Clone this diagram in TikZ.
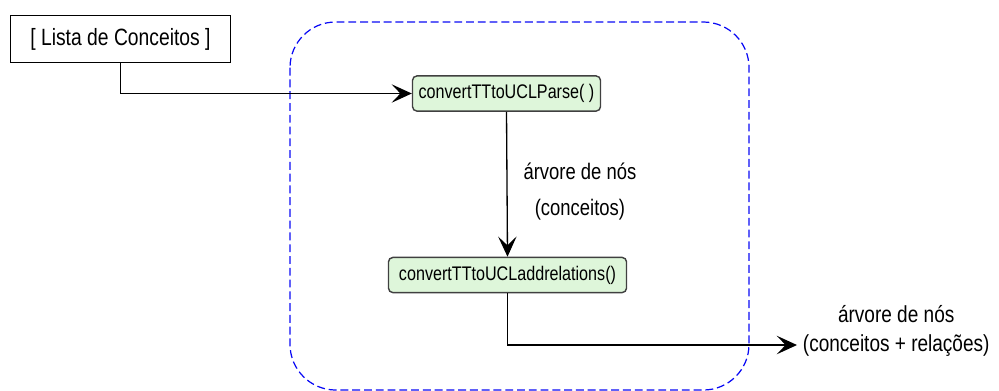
\documentclass[tikz,border=0pt]{standalone}
\usepackage{fontspec}
\setmainfont[FakeStretch=0.82]{Liberation Sans}
\usepackage{xcolor}
\usetikzlibrary{arrows.meta}
\usetikzlibrary{positioning}

\definecolor{procfill}{RGB}{222,246,218}
\definecolor{groupblue}{RGB}{10,10,245}

\begin{document}
\begin{tikzpicture}[x=0.02cm,y=-0.02cm,
                    >={Stealth[length=11.5pt,width=10.5pt,inset=5pt]},
                    line width=0.75pt,
                    data node/.style={draw,line width=0.8pt,inner sep=0pt,
                        minimum width=125pt,minimum height=27pt,
                        font=\fontsize{13.4}{15}\selectfont},
                    proc node/.style={draw=black!75,fill=procfill,line width=0.8pt,
                        rounded corners=2.5pt,inner sep=0pt,minimum height=20pt,
                        font=\fontsize{11.2}{13}\selectfont},
                    flow label/.style={align=center,inner sep=0pt}]

    \useasboundingbox (0,0) rectangle (999,390);

    % dashed group round the two calls
    \draw[groupblue,line width=0.7pt,dash pattern=on 4.5pt off 2.2pt,
          rounded corners=26pt] (290,22) rectangle (749,390);

    \node[data node] (lista) at (120.5,39) {[ Lista de Conceitos ]};
    \node[proc node,minimum width=107pt] (parse) at (506.5,93.5) {convertTTtoUCLParse( )};
    \node[proc node,minimum width=135.5pt] (addrel) at (507.5,275) {convertTTtoUCLaddrelations()};

    \coordinate (outend) at (797,345);
    \node[flow label,font=\fontsize{13.2}{17}\selectfont,right=3pt of outend,yshift=8pt]
        (outlbl) {árvore de nós\\(conceitos + relações)};

    \draw[->] (lista.south) |- (parse.west);
    \draw[->] (parse.south) -- node[flow label,right=9pt,pos=0.55,
        font=\fontsize{12.8}{20}\selectfont] (treelbl) {árvore de nós\\(conceitos)} (addrel.north);
    \draw[->] (addrel.south) |- (outend);
\end{tikzpicture}
\end{document}
